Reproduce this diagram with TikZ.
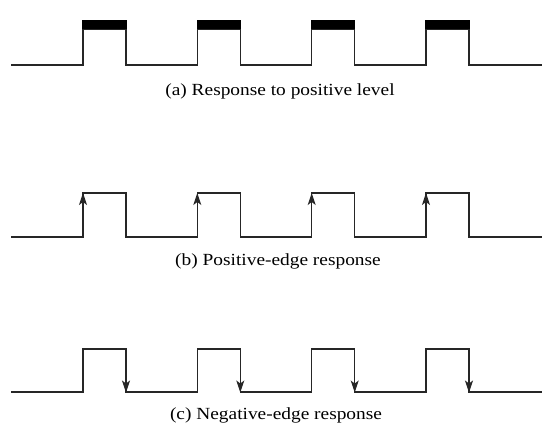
\documentclass[tikz,border=0pt]{standalone}
\usepackage{fontspec}
\setmainfont{Liberation Serif}
\newfontfamily\lblfont[FakeStretch=1.14]{Liberation Serif}
\usetikzlibrary{arrows.meta}
\tikzset{
  wave/.style={line width=1.1pt, black!85},
  bar/.style={fill=black},
  lbl/.style={font=\lblfont\fontsize{17}{19}\selectfont, inner sep=0pt, anchor=center},
  tip/.style={-{Stealth[length=12pt,width=8pt,inset=3pt]}, line width=1.1pt, black!85}
}
\begin{document}
\begin{tikzpicture}[x=1pt,y=-1pt]
\useasboundingbox (0,0) rectangle (555,431);
% (a)
\draw[wave] (11,65) -- (83,65) -- (83,29) -- (126,29) -- (126,65)
  -- (197.3,65) -- (197.3,29) -- (240.3,29) -- (240.3,65)
  -- (311.7,65) -- (311.7,29) -- (354.7,29) -- (354.7,65)
  -- (426,65) -- (426,29) -- (469,29) -- (469,65) -- (542,65);
\foreach \x in {83,197.3,311.7,426}{
  \fill[bar] (\x-0.6,20) rectangle (\x+43.6,29);
}
\node[lbl] (la) at (280,91) {(a) Response to positive level};
% (b)
\draw[wave] (11,237) -- (83,237) -- (83,193) -- (126,193) -- (126,237)
  -- (197.3,237) -- (197.3,193) -- (240.3,193) -- (240.3,237)
  -- (311.7,237) -- (311.7,193) -- (354.7,193) -- (354.7,237)
  -- (426,237) -- (426,193) -- (469,193) -- (469,237) -- (542,237);
\foreach \x in {83,197.3,311.7,426}{
  \draw[tip] (\x,220) -- (\x,193);
}
\node[lbl] (lb) at (278,261) {(b) Positive-edge response};
% (c)
\draw[wave] (11,392) -- (83,392) -- (83,349) -- (126,349) -- (126,392)
  -- (197.3,392) -- (197.3,349) -- (240.3,349) -- (240.3,392)
  -- (311.7,392) -- (311.7,349) -- (354.7,349) -- (354.7,392)
  -- (426,392) -- (426,349) -- (469,349) -- (469,392) -- (542,392);
\foreach \x in {126,240.3,354.7,469}{
  \draw[tip] (\x,365) -- (\x,392.5);
}
\node[lbl] (lc) at (276,415) {(c) Negative-edge response};
\end{tikzpicture}
\end{document}
